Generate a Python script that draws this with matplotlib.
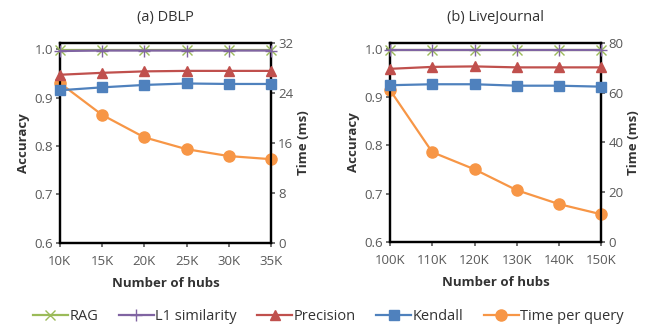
import matplotlib.pyplot as plt
from matplotlib.lines import Line2D

plt.rcParams['font.family'] = ['Open Sans', 'DejaVu Sans']

# DBLP panel
dblp_hubs = ['10K', '15K', '20K', '25K', '30K', '35K']
dblp_rag = [0.999, 0.999, 0.999, 0.999, 0.999, 0.999]
dblp_l1 = [0.996, 0.997, 0.997, 0.997, 0.997, 0.997]
dblp_precision = [0.947, 0.951, 0.954, 0.955, 0.955, 0.955]
dblp_kendall = [0.915, 0.921, 0.926, 0.929, 0.928, 0.928]
dblp_time = [25.6, 20.5, 16.9, 15.0, 13.9, 13.4]

# LiveJournal panel
lj_hubs = ['100K', '110K', '120K', '130K', '140K', '150K']
lj_rag = [0.999, 0.999, 0.999, 0.999, 0.999, 0.999]
lj_l1 = [0.998, 0.998, 0.998, 0.998, 0.998, 0.998]
lj_precision = [0.959, 0.963, 0.964, 0.962, 0.962, 0.962]
lj_kendall = [0.925, 0.927, 0.927, 0.924, 0.924, 0.922]
lj_time = [61.1, 36.1, 29.2, 20.8, 15.2, 11.1]

acc_ticks = [0.6, 0.7, 0.8, 0.9, 1.0]
dblp_time_ticks = [0, 8, 16, 24, 32]
lj_time_ticks = [0, 20, 40, 60, 80]

c_rag = '#9BBB59'
c_l1 = '#8064A2'
c_prec = '#C0504D'
c_kend = '#4F81BD'
c_time = '#F79646'
gray = '#595959'
dark = '#333333'

fig = plt.figure(figsize=(6.5, 3.26), dpi=100)


def panel(rect, title, hubs, rag, l1, prec, kend, tm, tticks):
    ax = fig.add_axes(rect)
    x = list(range(len(hubs)))
    kw = dict(lw=1.6, clip_on=False)
    ax.plot(x, l1, color=c_l1, marker='+', ms=9, mew=1.0, zorder=5, **kw)
    ax.plot(x, rag, color=c_rag, marker='x', ms=7, mew=1.0, zorder=4, **kw)
    ax.plot(x, prec, color=c_prec, marker='^', ms=7.5, zorder=4, **kw)
    ax.plot(x, kend, color=c_kend, marker='s', ms=7, zorder=4, **kw)
    ax.set_xlim(0, len(hubs) - 1)
    ax.set_ylim(0.6, 1.0125)
    ax.set_yticks(acc_ticks)
    ax.set_yticklabels(['%.1f' % v for v in acc_ticks])
    ax.set_xticks(x)
    ax.set_xticklabels(hubs)
    ax.set_ylabel('Accuracy', fontsize=9.5, fontweight='bold', color=dark, labelpad=3)
    ax.set_xlabel('Number of hubs', fontsize=9.5, fontweight='bold', color=dark, labelpad=6)
    ax.set_title(title, fontsize=10.5, color=dark, pad=16)
    ax.tick_params(labelsize=9.5, colors=gray, direction='out', length=3, width=1.2, pad=2)
    ax.tick_params(axis='x', pad=6)
    for s in ax.spines.values():
        s.set_linewidth(1.6)
        s.set_color('black')

    ax2 = ax.twinx()
    ax2.plot(x, tm, color=c_time, marker='o', ms=8, zorder=3, **kw)
    ax2.set_ylim(tticks[0], tticks[-1])
    ax2.set_yticks(tticks)
    ax2.set_ylabel('Time (ms)', fontsize=9.5, fontweight='bold', color=dark, labelpad=3)
    ax2.tick_params(labelsize=9.5, colors=gray, direction='out', length=3, width=1.2, pad=2)
    for s in ax2.spines.values():
        s.set_linewidth(1.6)
        s.set_color('black')
    ax.set_zorder(ax2.get_zorder() + 1)
    ax.patch.set_visible(False)
    for lbl in ax.get_xticklabels() + ax.get_yticklabels() + ax2.get_yticklabels():
        lbl.set_color(gray)


panel([0.092, 0.255, 0.325, 0.613], '(a) DBLP', dblp_hubs, dblp_rag, dblp_l1,
      dblp_precision, dblp_kendall, dblp_time, dblp_time_ticks)
panel([0.6, 0.258, 0.325, 0.61], '(b) LiveJournal', lj_hubs, lj_rag, lj_l1,
      lj_precision, lj_kendall, lj_time, lj_time_ticks)

handles = [
    Line2D([], [], color=c_rag, marker='x', ms=7, lw=1.6),
    Line2D([], [], color=c_l1, marker='+', ms=9, lw=1.6),
    Line2D([], [], color=c_prec, marker='^', ms=7.5, lw=1.6),
    Line2D([], [], color=c_kend, marker='s', ms=7, lw=1.6),
    Line2D([], [], color=c_time, marker='o', ms=8, lw=1.6),
]
labels = ['RAG', 'L1 similarity', 'Precision', 'Kendall', 'Time per query']
leg = fig.legend(handles, labels, loc='center', bbox_to_anchor=(0.505, 0.03), ncol=5,
                 frameon=False, fontsize=10.5, handlelength=2.4, handletextpad=0.1,
                 columnspacing=1.4)
for t in leg.get_texts():
    t.set_color(dark)

fig.savefig('out.png', dpi=100)
